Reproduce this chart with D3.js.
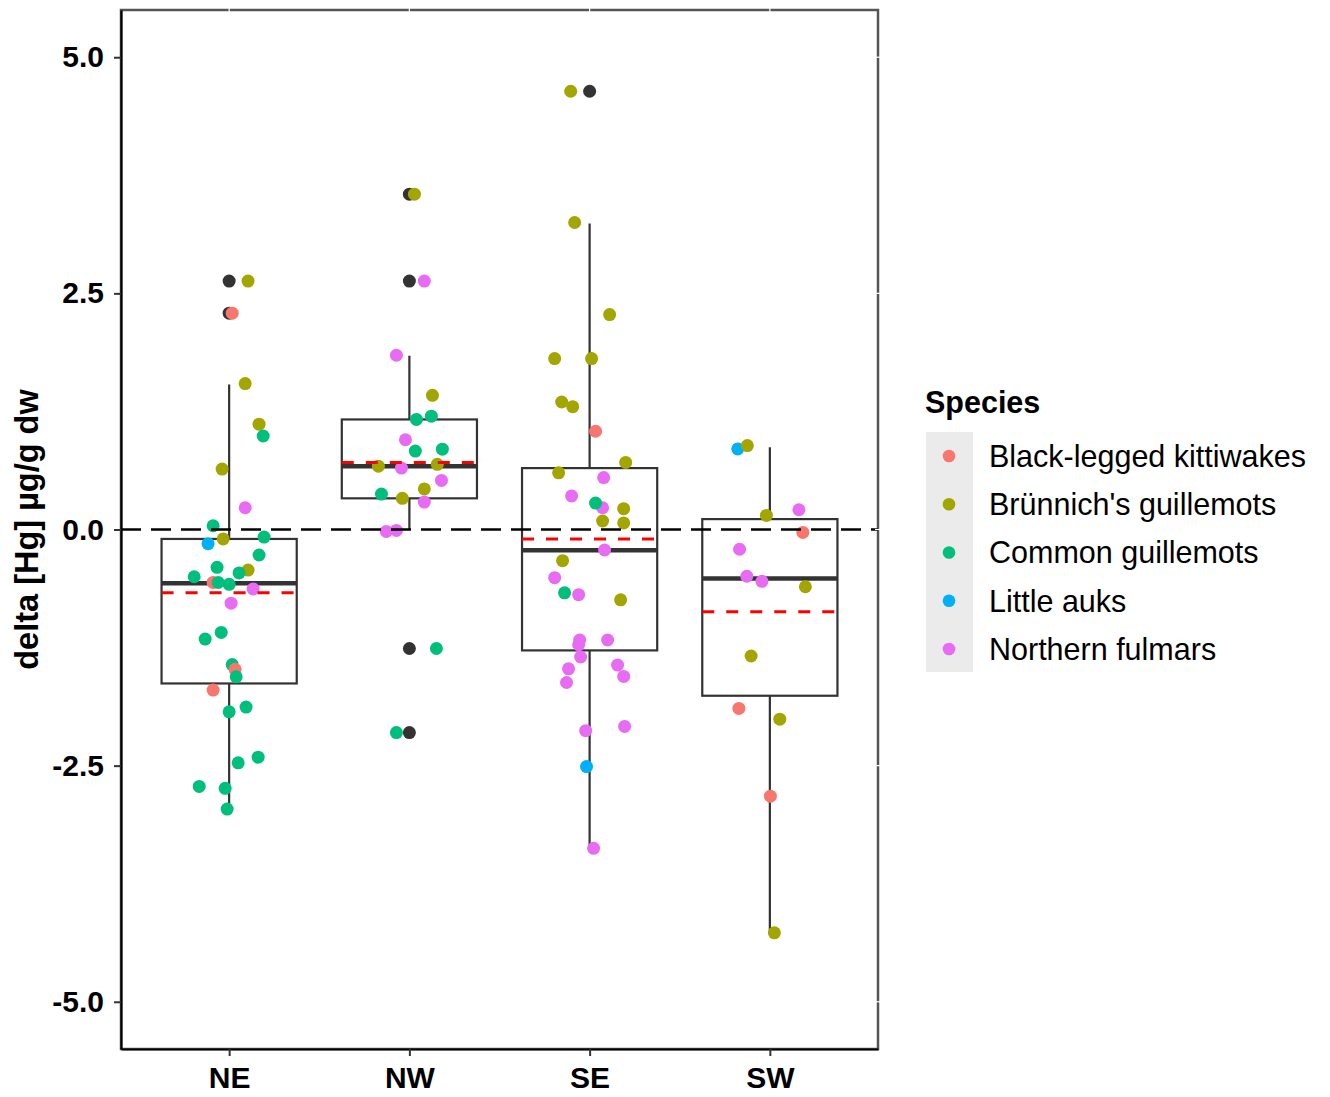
<!DOCTYPE html>
<html>
<head>
<meta charset="utf-8">
<script src="https://cdn.jsdelivr.net/npm/d3@7"></script>
<style>
body { margin: 0; background: #fff; }
text { font-family: "Liberation Sans", Arial, Helvetica, sans-serif; fill: #000; }
</style>
</head>
<body>
<script>
var regions = ["NE", "NW", "SE", "SW"];
var species = ["Black-legged kittiwakes", "Brünnich's guillemots", "Common guillemots", "Little auks", "Northern fulmars"];
var speciesColors = ["#F8766D", "#A3A500", "#00BF7D", "#00B0F6", "#E76BF3"];
var yTicks = [-5, -2.5, 0, 2.5, 5];

// boxplot summary per region
var q1 = [-1.63, 0.33, -1.28, -1.76];
var medians = [-0.57, 0.67, -0.22, -0.52];
var q3 = [-0.10, 1.165, 0.65, 0.11];
var whiskLo = [-2.96, 0.0, -3.37, -4.27];
var whiskHi = [1.535, 1.84, 3.24, 0.87];
var means = [-0.67, 0.71, -0.10, -0.87];
var outliers = [[2.63, 2.29], [3.55, 2.63, -1.26, -2.15], [4.64], []];

// jittered points: species index, value, jitter (fraction of category step)
var neSpecies = [1,0,1,1,2,1,4,2,3,1, 2,2,2,1,2,2,0,2,2,4, 4,2,2,2,0,2,0,2,2,2, 2,2,2,2];
var neValues = [2.63,2.29,1.545,1.115,0.99,0.64,0.23,0.04,-0.15,-0.10,
    -0.08,-0.27,-0.40,-0.43,-0.50,-0.46,-0.56,-0.56,-0.58,-0.63,
    -0.78,-1.09,-1.16,-1.43,-1.48,-1.56,-1.70,-1.88,-1.93,-2.41,
    -2.47,-2.72,-2.74,-2.96];
var neJitter = [0.105,0.017,0.089,0.166,0.189,-0.039,0.089,-0.089,-0.117,-0.033,
    0.194,0.166,-0.067,0.105,-0.194,0.055,-0.089,-0.061,0,0.133,
    0.011,-0.044,-0.133,0.017,0.033,0.039,-0.089,0.094,0,0.161,
    0.05,-0.166,-0.022,-0.011];

var nwSpecies = [1,4,4,1,2,2,4,2,2,1, 4,1,4,2,1,1,4,4,4,2, 2];
var nwValues = [3.55,2.63,1.845,1.42,1.20,1.165,0.95,0.83,0.85,0.67,
    0.65,0.69,0.52,0.375,0.43,0.33,0.29,-0.02,-0.01,-1.26,
    -2.15];
var nwJitter = [0.028,0.083,-0.072,0.128,0.122,0.039,-0.022,0.033,0.183,-0.172,
    -0.044,0.155,0.178,-0.155,0.083,-0.039,0.083,-0.128,-0.072,0.15,
    -0.072];

var seSpecies = [1,1,1,1,1,1,1,0,1,1, 4,4,4,2,1,1,1,4,1,4, 2,4,1,4,4,4,4,4,4,4, 4,4,4,3,4];
var seValues = [4.64,3.25,2.275,1.81,1.81,1.35,1.30,1.04,0.71,0.60,
    0.55,0.355,0.23,0.28,0.22,0.09,0.07,-0.217,-0.33,-0.51,
    -0.67,-0.69,-0.745,-1.17,-1.22,-1.17,-1.35,-1.475,-1.435,-1.555,
    -1.62,-2.13,-2.085,-2.51,-3.375];
var seJitter = [-0.105,-0.083,0.111,-0.194,0.011,-0.155,-0.094,0.033,0.2,-0.172,
    0.078,-0.1,0.072,0.033,0.189,0.072,0.189,0.083,-0.15,-0.194,
    -0.139,-0.061,0.172,-0.055,-0.061,0.1,-0.05,-0.117,0.155,0.189,
    -0.128,-0.022,0.194,-0.017,0.022];

var swSpecies = [3,1,4,1,0,4,4,4,1,1,0,1,0,1];
var swValues = [0.853,0.889,0.209,0.149,-0.031,-0.209,-0.495,-0.549,-0.606,-1.339,-1.894,-2.008,-2.823,-4.27];
var swJitter = [-0.178,-0.125,0.161,-0.019,0.183,-0.168,-0.128,-0.044,0.197,-0.104,-0.172,0.055,0.003,0.025];

var pointSets = [
    [neSpecies, neValues, neJitter],
    [nwSpecies, nwValues, nwJitter],
    [seSpecies, seValues, seJitter],
    [swSpecies, swValues, swJitter]
];

var margin = {top: 10, right: 452, bottom: 48, left: 121}
    , width = 1330 - margin.left - margin.right
    , height = 1097 - margin.top - margin.bottom;

var svg = d3.select("body").append("svg")
    .attr("width", 1330)
    .attr("height", 1097);

var g = svg.append("g")
    .attr("transform", "translate(" + margin.left + "," + margin.top + ")");

var xScale = d3.scalePoint()
    .domain(regions)
    .range([0, width])
    .padding(0.6);

var yScale = d3.scaleLinear()
    .domain([-5.5, 5.5])
    .range([height, 0]);

var step = xScale.step();
var halfBox = step * 0.375;

var boxes = regions.map(function(r, i) {
    return {region: r, q1: q1[i], med: medians[i], q3: q3[i],
        lo: whiskLo[i], hi: whiskHi[i], mean: means[i], out: outliers[i]};
});

var points = [];
regions.forEach(function(r, i) {
    var set = pointSets[i];
    set[0].forEach(function(s, j) {
        points.push({region: r, species: s, value: set[1][j], jitter: set[2][j]});
    });
});

// panel border
g.append("rect")
    .attr("width", width)
    .attr("height", height)
    .attr("fill", "none")
    .attr("stroke", "#555")
    .attr("stroke-width", 2.5);

// boxplots
var box = g.selectAll(".box")
    .data(boxes)
    .enter()
    .append("g")
    .attr("class", "box");

box.append("line")
    .attr("x1", function(d) { return xScale(d.region); })
    .attr("x2", function(d) { return xScale(d.region); })
    .attr("y1", function(d) { return yScale(d.hi); })
    .attr("y2", function(d) { return yScale(d.lo); })
    .attr("stroke", "#333")
    .attr("stroke-width", 2.2);

box.append("rect")
    .attr("x", function(d) { return xScale(d.region) - halfBox; })
    .attr("width", halfBox * 2)
    .attr("y", function(d) { return yScale(d.q3); })
    .attr("height", function(d) { return yScale(d.q1) - yScale(d.q3); })
    .attr("fill", "#fff")
    .attr("stroke", "#333")
    .attr("stroke-width", 2.2);

box.append("line")
    .attr("x1", function(d) { return xScale(d.region) - halfBox; })
    .attr("x2", function(d) { return xScale(d.region) + halfBox; })
    .attr("y1", function(d) { return yScale(d.med); })
    .attr("y2", function(d) { return yScale(d.med); })
    .attr("stroke", "#333")
    .attr("stroke-width", 4.5);

box.selectAll(".outlier")
    .data(function(d) { return d.out.map(function(v) { return {region: d.region, value: v}; }); })
    .enter()
    .append("circle")
    .attr("class", "outlier")
    .attr("cx", function(d) { return xScale(d.region); })
    .attr("cy", function(d) { return yScale(d.value); })
    .attr("r", 6.5)
    .attr("fill", "#333");

// jittered points
g.selectAll(".pt")
    .data(points)
    .enter()
    .append("circle")
    .attr("class", "pt")
    .attr("cx", function(d) { return xScale(d.region) + d.jitter * step; })
    .attr("cy", function(d) { return yScale(d.value); })
    .attr("r", 6.5)
    .attr("fill", function(d) { return speciesColors[d.species]; });

// zero reference line
g.append("line")
    .attr("x1", 0)
    .attr("x2", width)
    .attr("y1", yScale(0))
    .attr("y2", yScale(0))
    .attr("stroke", "#000")
    .attr("stroke-width", 2.5)
    .attr("stroke-dasharray", "20,10");

// mean lines
g.selectAll(".mean")
    .data(boxes)
    .enter()
    .append("line")
    .attr("class", "mean")
    .attr("x1", function(d) { return xScale(d.region) - halfBox; })
    .attr("x2", function(d) { return xScale(d.region) + halfBox; })
    .attr("y1", function(d) { return yScale(d.mean); })
    .attr("y2", function(d) { return yScale(d.mean); })
    .attr("stroke", "#FF0000")
    .attr("stroke-width", 3)
    .attr("stroke-dasharray", "12,12");

// white notches on top / right border
g.selectAll(".topnotch")
    .data(regions)
    .enter()
    .append("line")
    .attr("x1", function(d) { return xScale(d); })
    .attr("x2", function(d) { return xScale(d); })
    .attr("y1", -2)
    .attr("y2", 3)
    .attr("stroke", "#fff")
    .attr("stroke-width", 1.2);

g.selectAll(".rightnotch")
    .data(yTicks)
    .enter()
    .append("line")
    .attr("x1", width - 3)
    .attr("x2", width + 2)
    .attr("y1", function(d) { return yScale(d); })
    .attr("y2", function(d) { return yScale(d); })
    .attr("stroke", "#fff")
    .attr("stroke-width", 1.2);

// axes
var yAxis = g.append("g")
    .call(d3.axisLeft(yScale)
        .tickValues(yTicks)
        .tickFormat(function(d) { return d.toFixed(1); })
        .tickSize(7)
        .tickSizeOuter(0)
        .tickPadding(10));

var xAxis = g.append("g")
    .attr("transform", "translate(0," + height + ")")
    .call(d3.axisBottom(xScale)
        .tickSize(7)
        .tickSizeOuter(0)
        .tickPadding(11));

[yAxis, xAxis].forEach(function(ax) {
    ax.select(".domain").attr("stroke", "#000").attr("stroke-width", 2.2);
    ax.selectAll(".tick line").attr("stroke", "#333").attr("stroke-width", 2);
    ax.selectAll(".tick text")
        .attr("fill", "#000")
        .style("font-size", "30px")
        .style("font-weight", "bold");
});

// y axis title
svg.append("text")
    .attr("transform", "translate(38," + (margin.top + height / 2) + ") rotate(-90)")
    .attr("text-anchor", "middle")
    .style("font-size", "32.5px")
    .style("font-weight", "bold")
    .text("delta [Hg] µg/g dw");

// legend
var legend = svg.append("g")
    .attr("transform", "translate(925,0)");

legend.append("text")
    .attr("x", 0)
    .attr("y", 413)
    .style("font-size", "30.5px")
    .style("font-weight", "bold")
    .text("Species");

var legendScale = d3.scaleLinear()
    .domain([0, species.length - 1])
    .range([456, 649]);

legend.append("rect")
    .attr("x", 1)
    .attr("y", 432)
    .attr("width", 47)
    .attr("height", 240)
    .attr("fill", "#EBEBEB");

legend.selectAll(".legend-dot")
    .data(species)
    .enter()
    .append("circle")
    .attr("class", "legend-dot")
    .attr("cx", 24)
    .attr("cy", function(d, i) { return legendScale(i); })
    .attr("r", 6.3)
    .attr("fill", function(d, i) { return speciesColors[i]; });

legend.selectAll(".legend-text")
    .data(species)
    .enter()
    .append("text")
    .attr("class", "legend-text")
    .attr("x", 64)
    .attr("y", function(d, i) { return legendScale(i); })
    .attr("dy", "0.36em")
    .style("font-size", "30.5px")
    .text(function(d) { return d; });
</script>
</body>
</html>
